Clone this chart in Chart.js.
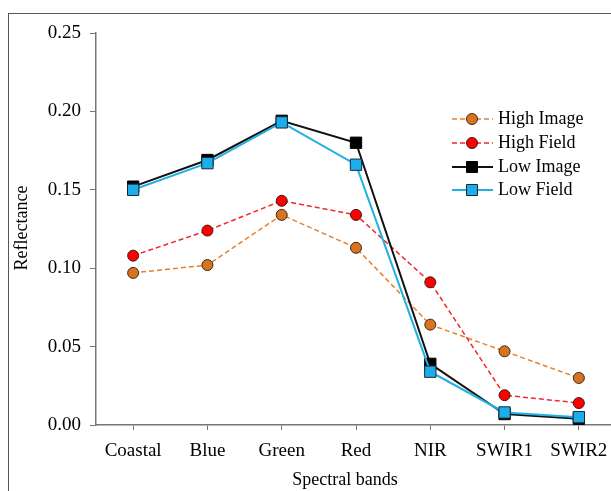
<!DOCTYPE html>
<html>
<head>
<meta charset="utf-8">
<script src="https://cdn.jsdelivr.net/npm/chart.js@4"></script>
<style>
  html, body { margin: 0; padding: 0; background: #fff; overflow: hidden; }
  #wrap { width: 625px; height: 491px; }
</style>
</head>
<body>
<div id="wrap"><canvas id="chart" width="625" height="491"></canvas></div>
<script>
const bands = ['Coastal', 'Blue', 'Green', 'Red', 'NIR', 'SWIR1', 'SWIR2'];
const highImage = [0.097, 0.102, 0.134, 0.113, 0.064, 0.047, 0.030];
const highField = [0.108, 0.124, 0.143, 0.134, 0.091, 0.019, 0.014];
const lowImage = [0.152, 0.169, 0.194, 0.180, 0.039, 0.007, 0.004];
const lowField = [0.150, 0.167, 0.193, 0.166, 0.034, 0.008, 0.005];
const yTicks = [0, 0.05, 0.10, 0.15, 0.20, 0.25];

const serif = '"Liberation Serif", "Times New Roman", serif';

const datasets = [
  { label: 'High Image', data: highImage, borderColor: '#E6802A', borderDash: [5, 3], borderWidth: 1.5,
    pointStyle: 'circle', pointRadius: 5.5, pointBackgroundColor: '#D9731D', pointBorderColor: '#3a2a1a', pointBorderWidth: 1, order: 3 },
  { label: 'High Field', data: highField, borderColor: '#EE2A2A', borderDash: [5, 3], borderWidth: 1.5,
    pointStyle: 'circle', pointRadius: 5.5, pointBackgroundColor: '#FF0000', pointBorderColor: '#3a1a1a', pointBorderWidth: 1, order: 2 },
  { label: 'Low Image', data: lowImage, borderColor: '#111111', borderWidth: 2,
    pointStyle: 'rect', pointRadius: 8, pointBackgroundColor: '#000000', pointBorderColor: '#000000', pointBorderWidth: 1, order: 1 },
  { label: 'Low Field', data: lowField, borderColor: '#21B0E2', borderWidth: 2,
    pointStyle: 'rect', pointRadius: 8, pointBackgroundColor: '#1CAEEA', pointBorderColor: '#1a2a33', pointBorderWidth: 1, order: 0 }
];

// frame, axis titles and legend drawn on the canvas
const extras = {
  id: 'extras',
  afterDraw(chart) {
    const ctx = chart.ctx;
    ctx.save();
    ctx.strokeStyle = '#555';
    ctx.lineWidth = 1;
    ctx.strokeRect(8.5, 13.5, 700, 600);

    ctx.fillStyle = '#000';
    ctx.font = '18px ' + serif;
    ctx.textAlign = 'center';
    ctx.textBaseline = 'middle';
    ctx.fillText('Spectral bands', 345, 480);
    ctx.translate(22, 228);
    ctx.rotate(-Math.PI / 2);
    ctx.fillText('Reflectance', 0, 0);
    ctx.restore();

    // legend
    ctx.save();
    const rows = [119, 143, 167, 190];
    datasets.forEach((d, i) => {
      const y = rows[i];
      ctx.strokeStyle = d.borderColor;
      ctx.lineWidth = d.borderWidth;
      ctx.setLineDash(d.borderDash || []);
      ctx.beginPath();
      ctx.moveTo(452, y);
      ctx.lineTo(493, y);
      ctx.stroke();
      ctx.setLineDash([]);
      ctx.fillStyle = d.pointBackgroundColor;
      ctx.strokeStyle = d.pointBorderColor;
      ctx.lineWidth = 1;
      ctx.beginPath();
      if (d.pointStyle === 'rect') ctx.rect(466.5, y - 5.5, 11, 11);
      else ctx.arc(472, y, 5.5, 0, Math.PI * 2);
      ctx.fill();
      ctx.stroke();
      ctx.fillStyle = '#000';
      ctx.font = '18px ' + serif;
      ctx.textAlign = 'left';
      ctx.textBaseline = 'middle';
      ctx.fillText(d.label, 498, y);
    });
    ctx.restore();
  }
};

new Chart(document.getElementById('chart'), {
  type: 'line',
  data: { labels: bands, datasets: datasets },
  options: {
    responsive: false,
    animation: false,
    layout: { padding: { left: 0, top: 33, right: 9, bottom: 0 } },
    plugins: { legend: { display: false }, tooltip: { enabled: false } },
    scales: {
      x: {
        offset: true,
        grid: { display: true, drawOnChartArea: false, tickLength: 5, color: '#777', offset: false },
        border: { color: '#777', width: 1.5 },
        ticks: { color: '#000', font: { family: serif, size: 19 }, padding: 10, maxRotation: 0 },
        afterFit(scale) { scale.height = 66; }
      },
      y: {
        min: 0,
        max: 0.25,
        afterBuildTicks(scale) { scale.ticks = yTicks.map(v => ({ value: v })); },
        grid: { display: true, drawOnChartArea: false, tickLength: 6, color: '#777' },
        border: { color: '#777', width: 1.5 },
        ticks: { color: '#000', font: { family: serif, size: 19 }, padding: 9,
          callback: v => v.toFixed(2) },
        afterFit(scale) { scale.width = 96; }
      }
    }
  },
  plugins: [extras]
});
</script>
</body>
</html>
